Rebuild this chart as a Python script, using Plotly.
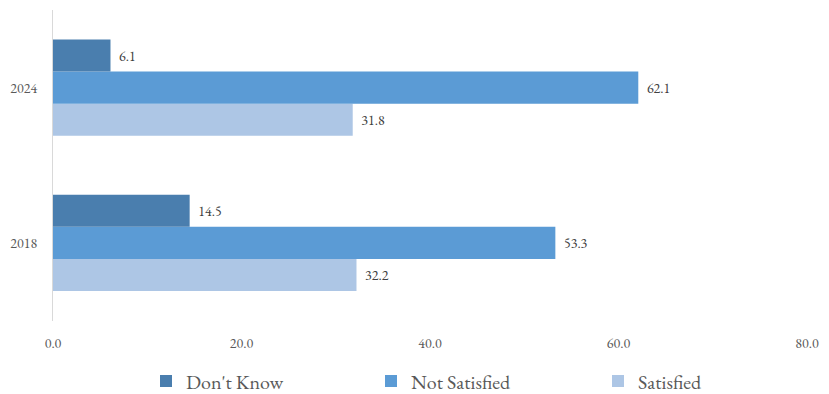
import plotly.graph_objects as go

years = ["2018", "2024"]
dont_know = [14.5, 6.1]
not_satisfied = [53.3, 62.1]
satisfied = [32.2, 31.8]
x_ticks = [0, 20, 40, 60, 80]

font_family = "EB Garamond, Garamond, Liberation Serif, serif"
text_color = "#595959"
W, H = 829, 394

fig = go.Figure()
# Added bottom-to-top so "Don't Know" sits on top of each group;
# each series gets its own legend box so the entries can be spaced evenly
series = [
    ("Satisfied", satisfied, "#ADC6E5", "legend3", 598),
    ("Not Satisfied", not_satisfied, "#5B9BD5", "legend2", 371),
    ("Don't Know", dont_know, "#4A7EAE", "legend", 146),
]
legend_layout = {}
for name, vals, color, leg, lx in series:
    fig.add_trace(go.Bar(
        y=years, x=vals, name=name, orientation="h",
        marker=dict(color=color, line=dict(width=0)),
        text=[f"  {v:.1f}" for v in vals], textposition="outside",
        textfont=dict(size=14, color="#404040", family=font_family),
        cliponaxis=False, legend=leg,
    ))
    legend_layout[leg] = dict(
        orientation="h", xref="container", yref="container",
        x=lx / W, xanchor="left", y=1 - 381 / H, yanchor="middle",
        itemwidth=30, entrywidth=150, font=dict(size=20, color=text_color),
        bgcolor="rgba(0,0,0,0)",
    )

fig.update_layout(
    width=W, height=H,
    margin=dict(l=51, r=16, t=10, b=69),
    paper_bgcolor="white", plot_bgcolor="white",
    barmode="group", bargap=0.38, bargroupgap=0,
    font=dict(family=font_family, color=text_color),
    xaxis=dict(range=[0, 80], tickvals=x_ticks,
               ticktext=[f"{t:.1f}" for t in x_ticks],
               showgrid=False, zeroline=False, showline=False,
               tickfont=dict(size=14, color=text_color), ticks="",
               ticklabelstandoff=12),
    yaxis=dict(showline=True, linecolor="#D9D9D9", linewidth=1,
               showgrid=False, ticks="", ticklabelstandoff=12,
               tickfont=dict(size=14, color=text_color)),
    showlegend=True,
    **legend_layout,
)

fig.write_html("out.html")
